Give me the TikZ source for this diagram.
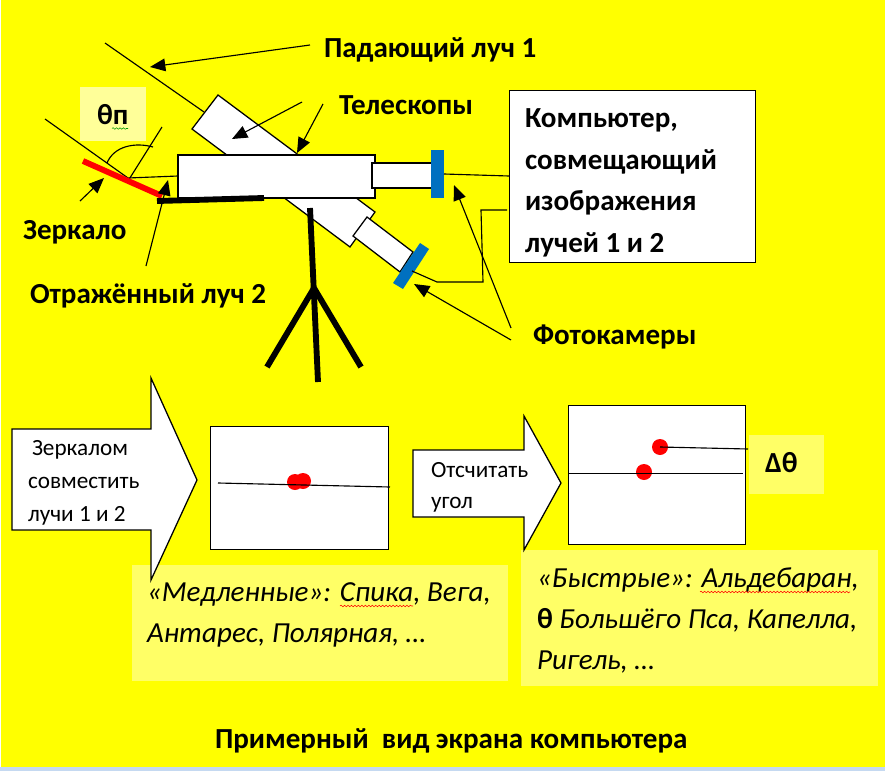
\documentclass[tikz,border=0pt]{standalone}
\usepackage{fontspec}
\setmainfont{Carlito}
\usetikzlibrary{arrows.meta,decorations.pathmorphing}
\definecolor{sheet}{RGB}{255,255,0}
\definecolor{paleA}{RGB}{255,255,153}
\definecolor{paleB}{RGB}{255,255,102}
\definecolor{stripe}{RGB}{197,217,241}
\definecolor{cam}{RGB}{0,112,192}
\definecolor{spot}{RGB}{255,0,0}
\tikzset{
  px/.style={x=0.75pt,y=-0.75pt},
  body/.style={draw=black,fill=white,line width=0.95pt,line join=miter},
  ray/.style={draw=black,line width=0.85pt},
  pointer/.style={draw=black,line width=0.85pt,-{Triangle[length=11.5pt,width=9.5pt]}},
  bar/.style={line width=4.4pt,draw=black},
  lbl/.style={anchor=base west,inner sep=0pt,outer sep=0pt,font=\fontsize{21.8pt}{24pt}\selectfont\bfseries},
  plain/.style={anchor=base west,inner sep=0pt,outer sep=0pt,font=\fontsize{17.4pt}{20pt}\selectfont},
  star/.style={anchor=base west,inner sep=0pt,outer sep=0pt,font=\fontsize{21.8pt}{24pt}\selectfont\itshape},
  dot/.style={circle,fill=spot,draw=none,minimum size=12pt,inner sep=0pt},
  spell/.style={draw=#1,line width=0.4pt,decorate,decoration={snake,amplitude=0.6pt,segment length=2.6pt}},
}
\begin{document}
\begin{tikzpicture}[px]
\useasboundingbox (0,0) rectangle (885,771);
% sheet
\fill[white] (0,0) rectangle (885,771);
\fill[sheet] (1,0) rectangle (885,767);
\fill[stripe] (0,767) rectangle (885,771);

% pale captions
\fill[paleA] (80,87) rectangle (146,141);
\fill[paleB] (749,435) rectangle (824,494);
\fill[paleB] (132,565) rectangle (508,681);
\fill[paleB] (521,550) rectangle (878,686);

% tilted telescope with its eyepiece and camera
\draw[body] (218,95) -- (375,212) -- (350,247) -- (192,129) -- cycle;
\draw[body] (367,217) -- (413,252) -- (400,272) -- (353,236) -- cycle;
\fill[cam] (420,243) -- (429,249) -- (403,289) -- (393,283) -- cycle;

% level telescope with its eyepiece and camera
\draw[body] (178,155) rectangle (375,198);
\draw[body] (372,163) rectangle (432,188);
\fill[cam] (431,150) rectangle (444,198);

% named points for the rays and leaders
\coordinate (rayA) at (105,43);
\coordinate (rayAend) at (204,112);
\coordinate (rayB) at (45,119);
\coordinate (hit) at (128,178);
\coordinate (normal) at (162,127);
\coordinate (normalEnd) at (128,181);
\coordinate (scope) at (178,176);
\coordinate (camA) at (444,174);
\coordinate (pcA) at (509,176);
\coordinate (camB) at (412,271);
\coordinate (jog) at (437,282);
\coordinate (turnA) at (483,282);
\coordinate (turnB) at (481,210);
\coordinate (pcB) at (507,210);

% rays and cables
\draw[ray] (rayA) -- (rayAend);
\draw[ray] (rayB) -- (hit) -- (scope);
\draw[ray] (normal) -- (normalEnd);
\draw[ray] (107,163) .. controls (114,146) and (135,142) .. (153,147);
\draw[ray] (camA) -- (pcA);
\draw[ray] (camB) -- (jog);
\draw[ray] (jog) -- (turnA) -- (turnB) -- (pcB);

% mirror, bracket and tripod
\draw[line width=4.4pt,draw=spot] (83,161) -- (162,196);
\draw[bar] (157,201) -- (264,198);
\draw[bar] (310,208) -- (318,382);
\draw[bar] (314,288) -- (267,367);
\draw[bar] (314,288) -- (361,367);

% computer
\node[draw=black,fill=white,line width=0.95pt,minimum width=184.5pt,minimum height=129pt,inner sep=0pt,anchor=north west] (pc) at (509,90) {};

% leaders
\draw[pointer] (310,45) -- (150,67);
\draw[pointer] (302,102) -- (232,139);
\draw[pointer] (323,104) -- (297,153);
\draw[pointer] (80,201) -- (104,178);
\draw[pointer] (146,266) -- (168,180);
\draw[pointer] (511,328) -- (454,185);
\draw[pointer] (511,340) -- (414,284);

% labels of the instrument
\node[lbl] (fall) at (324,57) {Падающий луч 1};
\node[lbl] (tele) at (339,114) {Телескопы};
\node[lbl] (pcA1) at (525,127) {Компьютер,};
\node[lbl] (pcA2) at (525,169) {совмещающий};
\node[lbl] (pcA3) at (525,210) {изображения};
\node[lbl] (pcA4) at (525,252) {лучей 1 и 2};
\node[lbl] (mir) at (23,239) {Зеркало};
\node[lbl] (refl) at (30,303) {Отражённый луч 2};
\node[lbl] (foto) at (533,344) {Фотокамеры};
\node[lbl] (angle) at (97,124) {θп};
\draw[spell=green!60!black] (112,128.5) -- (128,128.5);

% first step
\draw[body] (12,429) -- (151,429) -- (151,378) -- (197,480) -- (151,580) -- (151,530) -- (12,530) -- cycle;
\node[plain] (s1a) at (32,455) {Зеркалом};
\node[plain] (s1b) at (28,488) {совместить};
\node[plain] (s1c) at (28,521) {лучи 1 и 2};
\node[draw=black,fill=white,line width=0.95pt,minimum width=133.5pt,minimum height=92.25pt,inner sep=0pt,anchor=north west] (scr1) at (210,426) {};
\node[dot] (d1) at (295,482) {};
\node[dot] (d2) at (303,481) {};
\coordinate (s1L) at (218,483);
\coordinate (s1R) at (390,487);
\draw[ray] (s1L) -- (s1R);

% second step
\draw[body] (413,450) -- (524,450) -- (524,416) -- (561,483) -- (524,550) -- (524,517) -- (413,517) -- cycle;
\node[plain] (s2a) at (431,477) {Отсчитать};
\node[plain] (s2b) at (431,508) {угол};
\node[draw=black,fill=white,line width=0.95pt,minimum width=132.75pt,minimum height=104.25pt,inner sep=0pt,anchor=north west] (scr2) at (568,405) {};
\node[dot] (d3) at (660,447) {};
\node[dot] (d4) at (644,472) {};
\coordinate (s2L) at (568,473.5);
\coordinate (s2R) at (743,473.5);
\coordinate (s2T) at (748,449);
\draw[ray] (s2L) -- (s2R);
\draw[ray] (d3.center) -- (s2T);
\node[lbl] (delta) at (765,472) {Δθ};

% star lists
\node[star] (slow1) at (147,601) {«Медленные»: Спика, Вега,};
\node[star] (slow2) at (147,642) {Антарес, Полярная, …};
\draw[spell=red] (340,606) -- (413,606);
\node[star] (fast1) at (537,587) {«Быстрые»: Альдебаран,};
\node[star] (fast2) at (537,628) {{\upshape\bfseries θ} Большёго Пса, Капелла,};
\node[star] (fast3) at (537,669) {Ригель, …};
\draw[spell=red] (700,592) -- (850,592);

% caption
\node[lbl] (cap) at (215,748) {Примерный\ \ вид экрана компьютера};
\end{tikzpicture}
\end{document}
